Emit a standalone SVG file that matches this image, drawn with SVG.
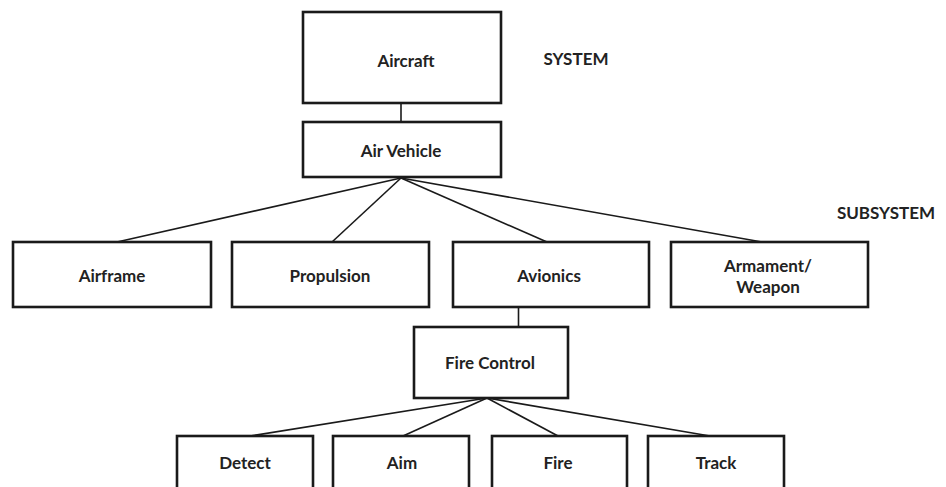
<svg xmlns="http://www.w3.org/2000/svg" width="946" height="487" viewBox="0 0 946 487">
  <style>
    .box { fill: #ffffff; stroke: #1a1a1a; stroke-width: 2.6; }
    .link { fill: none; stroke: #1a1a1a; stroke-width: 1.6; }
    .lbl { font-family: Lato, "Open Sans", "Liberation Sans", sans-serif; font-weight: bold; font-size: 17px; fill: #222222; text-anchor: middle; dominant-baseline: central; }
  </style>
  <rect width="946" height="487" fill="#ffffff"/>

  <!-- connectors -->
  <g id="connectors">
    <line class="link" x1="401" y1="103" x2="401" y2="122"/>
    <line class="link" x1="401" y1="178" x2="117" y2="242"/>
    <line class="link" x1="401" y1="178" x2="332" y2="242"/>
    <line class="link" x1="401" y1="178" x2="547" y2="242"/>
    <line class="link" x1="401" y1="178" x2="762" y2="242"/>
    <line class="link" x1="518.5" y1="306" x2="518.5" y2="327"/>
    <line class="link" x1="487" y1="398" x2="250" y2="436"/>
    <line class="link" x1="487" y1="398" x2="403" y2="436"/>
    <line class="link" x1="487" y1="398" x2="558" y2="436"/>
    <line class="link" x1="487" y1="398" x2="710" y2="436"/>
  </g>

  <!-- level labels -->
  <text class="lbl" x="576" y="58">SYSTEM</text>
  <text class="lbl" x="886" y="212">SUBSYSTEM</text>

  <g id="aircraft">
    <rect class="box" x="303" y="12" width="198" height="91"/>
    <text class="lbl" x="406" y="60">Aircraft</text>
  </g>
  <g id="air-vehicle">
    <rect class="box" x="303" y="122" width="198" height="55"/>
    <text class="lbl" x="401" y="150">Air Vehicle</text>
  </g>
  <g id="airframe">
    <rect class="box" x="13" y="242" width="198" height="65"/>
    <text class="lbl" x="112" y="275">Airframe</text>
  </g>
  <g id="propulsion">
    <rect class="box" x="232" y="242" width="197" height="65"/>
    <text class="lbl" x="330" y="275">Propulsion</text>
  </g>
  <g id="avionics">
    <rect class="box" x="453" y="242" width="196" height="65"/>
    <text class="lbl" x="549" y="275">Avionics</text>
  </g>
  <g id="armament">
    <rect class="box" x="671" y="242" width="197" height="65"/>
    <text class="lbl" x="768" y="265">Armament/</text>
    <text class="lbl" x="768" y="286">Weapon</text>
  </g>
  <g id="fire-control">
    <rect class="box" x="414" y="327" width="154" height="71"/>
    <text class="lbl" x="490" y="362">Fire Control</text>
  </g>
  <g id="detect">
    <rect class="box" x="177" y="436" width="136" height="70"/>
    <text class="lbl" x="245" y="462">Detect</text>
  </g>
  <g id="aim">
    <rect class="box" x="333" y="436" width="136" height="70"/>
    <text class="lbl" x="402" y="462">Aim</text>
  </g>
  <g id="fire">
    <rect class="box" x="492" y="436" width="135" height="70"/>
    <text class="lbl" x="558" y="462">Fire</text>
  </g>
  <g id="track">
    <rect class="box" x="648" y="436" width="136" height="70"/>
    <text class="lbl" x="716" y="462">Track</text>
  </g>
</svg>
